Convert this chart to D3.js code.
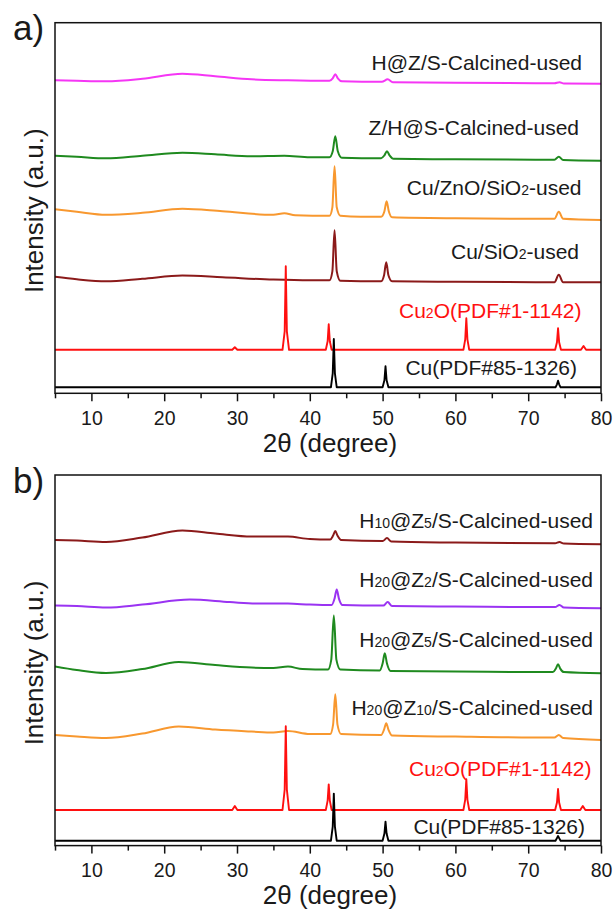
<!DOCTYPE html>
<html>
<head>
<meta charset="utf-8">
<script src="https://cdn.jsdelivr.net/npm/d3@7"></script>
<style>
  body { margin: 0; background: #fff; }
  svg text { font-family: "Liberation Sans", Arial, sans-serif; fill: #1a1a1a; }
</style>
</head>
<body>
<div id="chart"></div>
<script>
// ---- data (2theta in degree, intensity in a.u. incl. stacking offset) ----
const majorTicks = [10, 20, 30, 40, 50, 60, 70, 80];
const minorTicks = [5, 15, 25, 35, 45, 55, 65, 75];

// panel a)
const aHZS = [[5,313],[8,312.5],[12,312],[17,314.5],[22.5,319.5],[27,317],[32,314],[37,313],[42.7,312.5],[43.15,315],[43.5,319],[43.85,315],[44.4,312],[49.9,311.5],[50.7,314],[51.4,311],[60,310.5],[73.6,310],[74.3,311],[74.9,309.8],[80,309.5]];
const aZHS = [[5,237.5],[8,236.5],[12,235],[17,237.5],[22.5,240.5],[27,239],[32,237],[36.5,237.5],[40,236],[42.7,236],[43.15,242],[43.5,257],[43.85,242],[44.4,235.5],[49.8,235],[50.25,238],[50.6,242],[50.95,238],[51.5,234.5],[60,234],[73.6,233.5],[74.2,236.5],[74.8,233.2],[80,232.5]];
const aCuZnO = [[5,184],[8,181.5],[12,178.5],[17,180.5],[22.5,184.5],[28,182],[35,178.5],[36.5,180],[38,178],[42.7,177.5],[43.1,186],[43.4,227],[43.7,186],[44.2,177.5],[47,176.5],[49.8,176.5],[50.25,182],[50.55,192],[50.85,182],[51.3,176],[60,175],[73.6,174.5],[74.2,181.5],[74.8,174.5],[80,173.3]];
const aCuSi = [[5,116.5],[8,114],[12,112],[17,114.5],[22.5,117.7],[28,116],[35,113.7],[40,113],[42.7,113],[43.1,122],[43.4,163],[43.7,122],[44.2,112.5],[49.8,112],[50.2,118],[50.5,131],[50.8,118],[51.3,112],[60,111.5],[73.6,111],[74.2,118.5],[74.8,111],[80,111]];
const aCu2O = [[5,43.5],[29.35,43.5],[29.7,46],[30.05,43.5],[36.25,43.5],[36.55,62],[36.7,127],[36.85,62],[37.15,43.5],[42.2,43.5],[42.45,52],[42.6,69],[42.75,52],[43.0,43.5],[61.1,43.5],[61.35,54],[61.5,75],[61.65,54],[61.9,43.5],[73.7,43.5],[73.95,51],[74.1,65],[74.25,51],[74.5,43.5],[77.25,43.5],[77.6,47.3],[77.95,43.5],[80,43.5]];
const aCu = [[5,6],[42.9,6],[43.15,20],[43.3,54.3],[43.45,20],[43.7,6],[50.0,6],[50.25,13],[50.4,27],[50.55,13],[50.8,6],[73.75,6],[73.95,9],[74.1,12.6],[74.25,9],[74.45,6],[80,6]];

// panel b)
const bH10Z5 = [[5,305.7],[8,305],[12,303.5],[17,308],[22.5,315],[27,312],[32,309],[37,309],[40,306.5],[42.8,306],[43.2,310],[43.5,314.5],[43.8,310],[44.3,305.5],[50.0,304.5],[50.6,307.5],[51.2,304],[60,303],[73.7,302.3],[74.3,303.5],[74.9,302],[80,301.3]];
const bH20Z2 = [[5,240],[8,239.5],[12,238],[17,241],[23.5,246],[29,243.5],[33,242],[37,242],[40,241],[43.0,240.5],[43.4,247],[43.7,256],[44.0,247],[44.5,240.5],[50.1,240],[50.7,243.6],[51.3,239.5],[60,239],[73.7,238.5],[74.3,240.6],[74.9,238],[80,237.3]];
const bH20Z5 = [[5,179],[8,175.5],[12,172.5],[17,176.5],[22,183.5],[27,180.5],[32,178],[35,177.5],[37,179],[39,176.5],[42.5,176],[42.95,186],[43.3,230],[43.65,186],[44.2,176],[49.6,175],[50.0,182],[50.3,192.3],[50.6,182],[51.1,174.5],[60,174],[73.4,173.5],[73.8,177],[74.1,181.3],[74.4,177],[74.9,173.5],[80,172.3]];
const bH20Z10 = [[5,110.5],[8,109],[12,107.5],[17,112],[22,119],[27,116],[32,114],[35,113],[37,114.5],[40,111.5],[42.8,111.5],[43.2,121],[43.5,151.4],[43.8,121],[44.3,111.5],[49.8,110.5],[50.2,116],[50.5,122.3],[50.8,116],[51.3,110],[60,109],[73.6,108],[74.2,110.6],[74.8,107.5],[80,105.6]];
const bCu2O = [[5,35.6],[29.35,35.6],[29.7,39.6],[30.05,35.6],[36.25,35.6],[36.55,56],[36.7,119.4],[36.85,56],[37.15,35.6],[42.2,35.6],[42.45,45],[42.6,61.2],[42.75,45],[43.0,35.6],[61.1,35.6],[61.35,46],[61.5,66.3],[61.65,46],[61.9,35.6],[73.7,35.6],[73.95,43],[74.1,56.6],[74.25,43],[74.5,35.6],[77.15,35.6],[77.5,39.6],[77.85,35.6],[80,35.6]];
const bCu = [[5,4.8],[42.9,4.8],[43.15,19],[43.3,52],[43.45,19],[43.7,4.8],[50.0,4.8],[50.25,12],[50.4,24],[50.55,12],[50.8,4.8],[73.75,4.8],[73.95,7.5],[74.1,9.6],[74.25,7.5],[74.45,4.8],[80,4.8]];

// labels ({..} = subscript)
const aNames = ["H@Z/S-Calcined-used", "Z/H@S-Calcined-used", "Cu/ZnO/SiO{2}-used", "Cu/SiO{2}-used", "Cu{2}O(PDF#1-1142)", "Cu(PDF#85-1326)"];
const bNames = ["H{10}@Z{5}/S-Calcined-used", "H{20}@Z{2}/S-Calcined-used", "H{20}@Z{5}/S-Calcined-used", "H{20}@Z{10}/S-Calcined-used", "Cu{2}O(PDF#1-1142)", "Cu(PDF#85-1326)"];

// ---- styles / layout ----
const aColors = ["#f536f5", "#1f8a1f", "#f8982f", "#8b1a1a", "#ff1010", "#000"];
const bColors = ["#8b1a1a", "#9a33f2", "#1f8a1f", "#f8982f", "#ff1010", "#000"];
const aLabelPos = [[582, 47.3], [579, 112.3], [581.5, 172.3], [579, 235.8], [581.5, 295.6], [577, 352.3]];
const bLabelPos = [[593, 53.3], [593, 111.7], [593, 171.7], [593, 240], [591.5, 301], [585, 359]];

const W = 615, H = 914;
const frameLeft = 55, frameRight = 601, frameH = 370.6;

class XrdPanel {
  constructor(svg, top, letter, series) {
    this.svg = svg;
    this.top = top;
    this.letter = letter;
    this.series = series;
    this.bottom = top + frameH;
    this.x = d3.scaleLinear().domain([5, 80]).range([frameLeft, frameRight]);
    this.y = d3.scaleLinear().domain([0, frameH]).range([this.bottom, top]);
  }

  draw() {
    const g = this.svg.append("g");
    const clipId = "clip-" + this.letter;
    g.append("clipPath").attr("id", clipId)
      .append("rect")
        .attr("x", frameLeft).attr("y", this.top)
        .attr("width", frameRight - frameLeft).attr("height", frameH);

    // patterns
    this.series.forEach((s) => {
      const line = d3.line()
        .x((d) => this.x(d[0]))
        .y((d) => this.y(d[1]))
        .curve(s.ref ? d3.curveLinear : d3.curveMonotoneX);
      g.append("path")
        .attr("clip-path", `url(#${clipId})`)
        .attr("d", line(s.points))
        .attr("fill", "none")
        .attr("stroke", s.color)
        .attr("stroke-width", s.ref ? 1.9 : 2)
        .attr("stroke-linejoin", "round");

      const t = g.append("text")
        .attr("x", s.pos[0])
        .attr("y", this.top + s.pos[1])
        .attr("text-anchor", "end")
        .style("font-size", "21px")
        .style("fill", s.color === "#ff1010" ? "#ff1010" : "#1a1a1a");
      // split name into normal / subscript pieces
      s.name.split(/(\{[^}]*\})/).filter((p) => p.length).forEach((p) => {
        const sub = p[0] === "{";
        t.append("tspan")
          .text(sub ? p.slice(1, -1) : p)
          .style("font-size", sub ? "14px" : "21px");
      });
    });

    // frame
    g.append("rect")
      .attr("x", frameLeft).attr("y", this.top)
      .attr("width", frameRight - frameLeft).attr("height", frameH)
      .attr("fill", "none").attr("stroke", "#111").attr("stroke-width", 1.5);

    // x axis
    const ax = g.append("g")
      .attr("transform", `translate(0,${this.bottom})`)
      .call(d3.axisBottom(this.x).tickValues(majorTicks).tickSize(8).tickPadding(9.5).tickFormat(d3.format("d")));
    ax.select(".domain").remove();
    ax.selectAll(".tick line").attr("stroke", "#111").attr("stroke-width", 1.5);
    ax.selectAll("text").style("font-size", "19.5px").style("fill", "#1a1a1a");

    const minor = g.append("g")
      .attr("transform", `translate(0,${this.bottom})`)
      .call(d3.axisBottom(this.x).tickValues(minorTicks).tickSize(5).tickFormat(""));
    minor.select(".domain").remove();
    minor.selectAll(".tick line").attr("stroke", "#111").attr("stroke-width", 1.5);

    // titles
    g.append("text")
      .attr("x", 330).attr("y", this.bottom + 58.5)
      .attr("text-anchor", "middle")
      .style("font-size", "26px")
      .text("2θ (degree)");

    g.append("text")
      .attr("transform", `translate(42.5,${this.top + 188}) rotate(-90)`)
      .attr("text-anchor", "middle")
      .style("font-size", "26px")
      .text("Intensity (a.u.)");

    g.append("text")
      .attr("x", 13).attr("y", this.top + 17.5)
      .style("font-size", "35px")
      .text(this.letter + ")");
  }
}

function buildSeries(pointsList, names, colors, positions) {
  return pointsList.map((pts, i) => ({
    points: pts,
    name: names[i],
    color: colors[i],
    pos: positions[i],
    ref: i >= 4
  }));
}

const svg = d3.select("#chart").append("svg")
  .attr("width", W)
  .attr("height", H);

new XrdPanel(svg, 22.7, "a",
  buildSeries([aHZS, aZHS, aCuZnO, aCuSi, aCu2O, aCu], aNames, aColors, aLabelPos)).draw();
new XrdPanel(svg, 475, "b",
  buildSeries([bH10Z5, bH20Z2, bH20Z5, bH20Z10, bCu2O, bCu], bNames, bColors, bLabelPos)).draw();
</script>
</body>
</html>
